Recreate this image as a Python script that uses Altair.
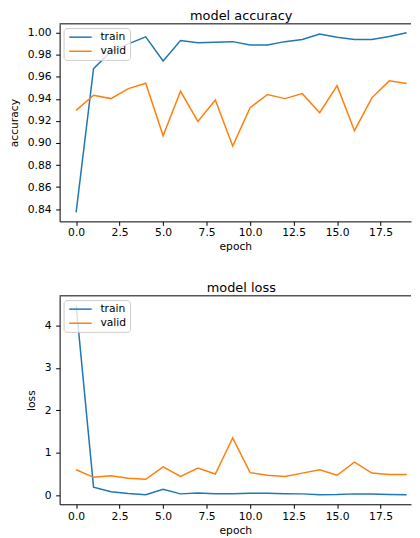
import altair as alt
import pandas as pd

epochs = list(range(20))
train_acc = [0.837, 0.9675, 0.983, 0.990, 0.9964, 0.9745, 0.993, 0.991, 0.9915, 0.992,
             0.989, 0.989, 0.992, 0.994, 0.999, 0.996, 0.994, 0.994, 0.9966, 1.000]
valid_acc = [0.9296, 0.9433, 0.9403, 0.9494, 0.9542, 0.9066, 0.9469, 0.9196, 0.939, 0.8973,
             0.932, 0.944, 0.9403, 0.9448, 0.9275, 0.952, 0.9112, 0.941, 0.9564, 0.954]
train_loss = [4.48, 0.19, 0.08, 0.04, 0.01, 0.14, 0.03, 0.05, 0.035, 0.035,
              0.045, 0.045, 0.035, 0.03, 0.01, 0.015, 0.03, 0.025, 0.015, 0.008]
valid_loss = [0.60, 0.42, 0.46, 0.40, 0.375, 0.665, 0.44, 0.64, 0.50, 1.35,
              0.53, 0.47, 0.44, 0.52, 0.60, 0.47, 0.78, 0.52, 0.49, 0.485]
series_names = ["train", "valid"]
series_colors = ["#1f77b4", "#ff7f0e"]
x_ticks = [0.0, 2.5, 5.0, 7.5, 10.0, 12.5, 15.0, 17.5]
acc_ticks = [0.84, 0.86, 0.88, 0.90, 0.92, 0.94, 0.96, 0.98, 1.00]
loss_ticks = [0, 1, 2, 3, 4]

W = 354
X_DOMAIN = [-0.95, 19.25]
FONT = "DejaVu Sans"
FS = 10.8


def long_df(train, valid):
    rows = []
    for e, t, v in zip(epochs, train, valid):
        rows.append({"epoch": e, "series": "train", "value": t})
        rows.append({"epoch": e, "series": "valid", "value": v})
    return pd.DataFrame(rows)


def pad_domain(vals):
    lo, hi = min(vals), max(vals)
    m = 0.05 * (hi - lo)
    return [lo - m, hi + m]


def panel(title, ytitle, train, valid, yticks, yfmt, height, xlab_pad):
    df = long_df(train, valid)
    dom = pad_domain(train + valid)
    lines = alt.Chart(df).mark_line(strokeWidth=1.5).encode(
        x=alt.X("epoch:Q",
                scale=alt.Scale(domain=X_DOMAIN, nice=False, zero=False),
                axis=alt.Axis(values=x_ticks, format=".1f", title="epoch",
                              labelFlush=False, labelPadding=xlab_pad, titlePadding=3)),
        y=alt.Y("value:Q",
                scale=alt.Scale(domain=dom, nice=False, zero=False),
                axis=alt.Axis(values=yticks, format=yfmt, title=ytitle,
                              labelPadding=4.5, titlePadding=8)),
        color=alt.Color("series:N",
                        scale=alt.Scale(domain=series_names, range=series_colors),
                        legend=alt.Legend(orient="none", legendX=4, legendY=4.3,
                                          title=None, symbolType="M-0.68,0H3.84",
                                          symbolSize=100, symbolStrokeWidth=1.5,
                                          labelOffset=22, padding=3.1, rowPadding=3.2,
                                          fillColor="rgba(255,255,255,0.8)",
                                          strokeColor="#cccccc", cornerRadius=3,
                                          labelFontSize=FS, labelFont=FONT,
                                          labelColor="black")),
    )
    top = alt.Chart(pd.DataFrame({"a": [0]})).mark_rule(color="black", strokeWidth=1).encode(
        x=alt.value(0), x2=alt.value(W), y=alt.value(0)
    )
    return alt.layer(lines, top).properties(
        width=W, height=height,
        title=alt.TitleParams(title, fontSize=13, font=FONT, fontWeight="normal",
                              color="black", anchor="middle", frame="group",
                              offset=0, dx=6),
    )


acc = panel("model accuracy", "accuracy", train_acc, valid_acc, acc_ticks, ".2f", 199, 1.2)
loss = panel("model loss", "loss", train_loss, valid_loss, loss_ticks, "d", 210, 2.5)

chart = alt.vconcat(acc, loss, spacing=31).resolve_legend(color="independent").properties(
    padding=0
).configure_axis(
    grid=False, domainColor="black", domainWidth=1, tickColor="black", tickWidth=1,
    tickSize=4, labelFont=FONT, labelFontSize=FS, labelColor="black",
    titleFont=FONT, titleFontSize=FS, titleFontWeight="normal", titleColor="black",
).configure_view(stroke=None)

chart.save("out.html", embed_options={"renderer": "svg", "actions": False})
